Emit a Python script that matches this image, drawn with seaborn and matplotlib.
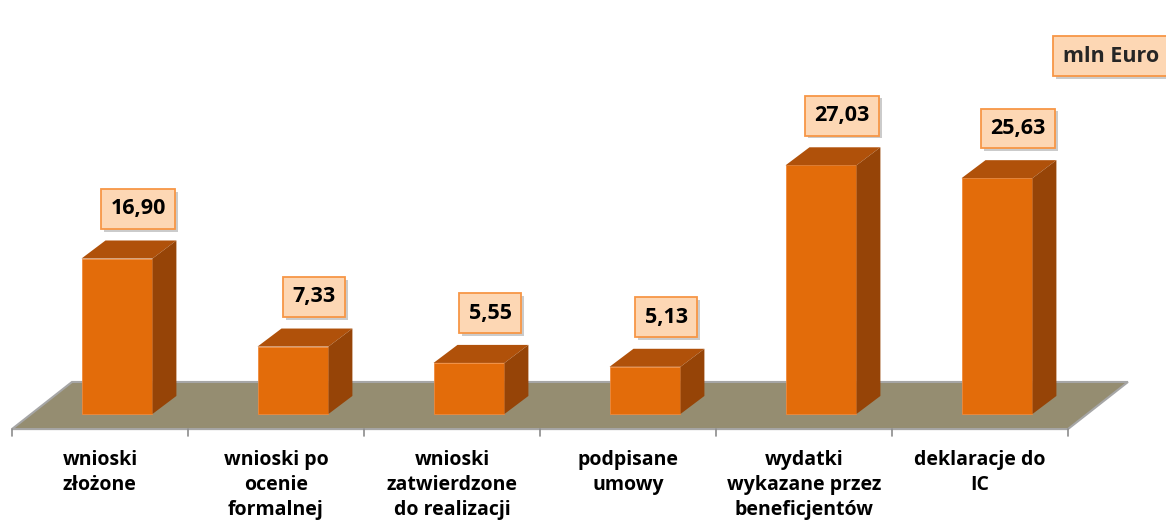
import numpy as np
import seaborn as sns
import matplotlib.pyplot as plt
from matplotlib.patches import Polygon
import matplotlib.patheffects as pe

# dane z wykresu
kategorie = ["wnioski\nzłożone", "wnioski po\nocenie\nformalnej",
             "wnioski\nzatwierdzone\ndo realizacji", "podpisane\numowy",
             "wydatki\nwykazane przez\nbeneficjentów", "deklaracje do\nIC"]
wartosci = [16.90, 7.33, 5.55, 5.13, 27.03, 25.63]
etykiety = ["16,90", "7,33", "5,55", "5,13", "27,03", "25,63"]
jednostka = "mln Euro"

# kolory
przod = "#e36c0a"
gora = "#b0510a"
bok = "#964407"
podloga = "#958d71"

sns.set_style("white")
plt.rcParams['font.family'] = ['Open Sans', 'DejaVu Sans']

fig = plt.figure(figsize=(11.66, 5.25), dpi=100)
ax = fig.add_axes([0, 0, 1, 1])

n = len(wartosci)
szer = 0.403
sns.barplot(x=list(range(n)), y=wartosci, color=przod, width=szer,
            saturation=1, edgecolor="#f08a3c", linewidth=0.6, ax=ax, zorder=3)

# glebia slupka (w jednostkach danych)
gx, gy = 0.136, 1.96
for i, v in enumerate(wartosci):
    x0, x1 = i - szer / 2, i + szer / 2
    ax.add_patch(Polygon([(x0, v), (x1, v), (x1 + gx, v + gy), (x0 + gx, v + gy)],
                         closed=True, facecolor=gora, edgecolor="none", zorder=3))
    ax.add_patch(Polygon([(x1, 0), (x1 + gx, gy), (x1 + gx, v + gy), (x1, v)],
                         closed=True, facecolor=bok, edgecolor="none", zorder=3))

# podloga
przes = 0.097
fy, by_ = -1.64, 3.48
fl, fr = -0.5 - przes, n - 0.5 - przes
dx = 0.341
ax.add_patch(Polygon([(fl, fy), (fr, fy), (fr + dx, by_), (fl + dx, by_)],
                     closed=True, facecolor=podloga, edgecolor="#a6a6a6",
                     linewidth=1.5, zorder=1))
for k in range(n + 1):
    xt = k - 0.5 - przes
    ax.plot([xt, xt], [fy, fy - 0.8], color="#8c8c8c", lw=1.2, zorder=2)

# etykiety kategorii
for i, k in enumerate(kategorie):
    ax.text(i - przes, -3.9, k, ha="center", va="top", fontsize=14,
            fontweight="bold", color="black", linespacing=1.33)

# etykiety wartosci
ramka = dict(boxstyle="square,pad=0.44", facecolor="#fdd7b4", edgecolor="#f79646", linewidth=1.3)
cien = [pe.withSimplePatchShadow(offset=(2, -2), shadow_rgbFace="#999999", alpha=0.5)]
for i, (v, t) in enumerate(zip(wartosci, etykiety)):
    tx = ax.text(i + 0.12, v + 5.4, t, ha="center", va="center", fontsize=15.5,
                 fontweight="bold", color="black", bbox=ramka, zorder=5)
    tx.get_bbox_patch().set_path_effects(cien)

tj = ax.text(5.96 - (1166 - 1063) / 176, 45.0 - (56 / 9.2), jednostka,
             ha="left", va="center", fontsize=15.5, fontweight="bold", bbox=ramka, zorder=5)
tj.get_bbox_patch().set_path_effects(cien)

ax.set_xlim(-117 / 176, (1166 - 117) / 176)
ax.set_ylim(-111 / 9.2, (525 - 111) / 9.2)
ax.axis("off")

fig.savefig("out.png", dpi=100)
